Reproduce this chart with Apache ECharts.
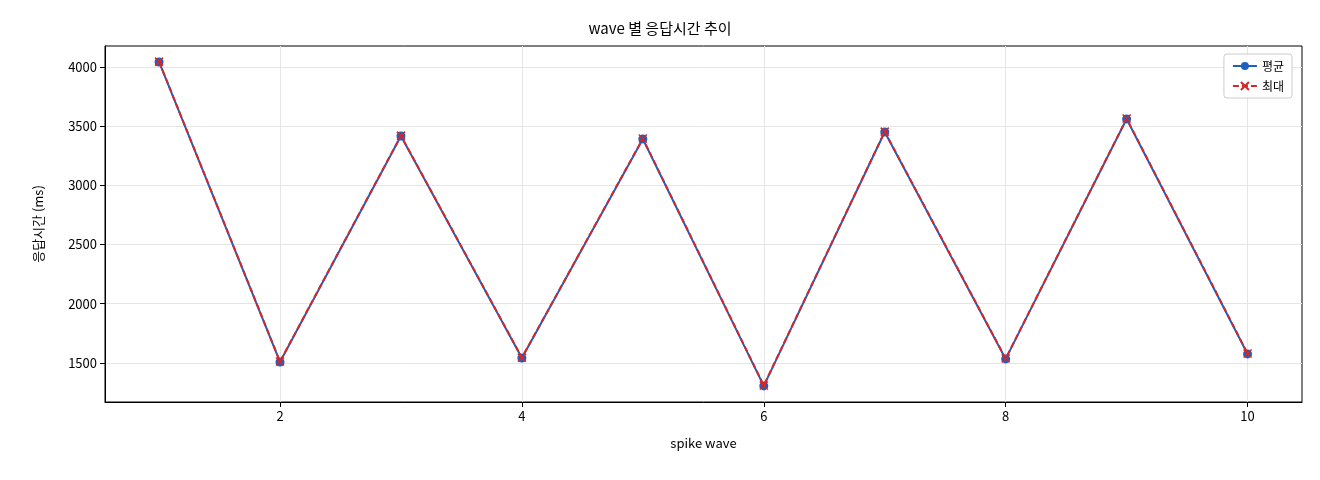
<!DOCTYPE html>
<html><head><meta charset="utf-8">
<script src="https://cdn.jsdelivr.net/npm/echarts@6/dist/echarts.min.js"></script>
<style>html,body{margin:0;padding:0;background:#fff}#c{width:1320px;height:480px}</style>
</head><body><div id="c"></div>
<script>
const waves = [1,2,3,4,5,6,7,8,9,10];
const avgMs = [4042,1508,3417,1542,3392,1306,3451,1534,3561,1576];
const maxMs = [4045,1512,3420,1545,3395,1310,3454,1537,3564,1580];
const xTicks = [2,4,6,8,10];
const yTicks = [1500,2000,2500,3000,3500,4000];
const F = '"Noto Sans CJK KR", "DejaVu Sans", sans-serif';
const chart = echarts.init(document.getElementById('c'));
chart.setOption({
  animation:false,
  title:{text:'wave 별 응답시간 추이', left:'center', top:16, textStyle:{fontFamily:F, fontSize:15, fontWeight:'normal', color:'#000'}},
  grid:{left:105, right:18, top:46, bottom:78, show:true, borderColor:'#000', borderWidth:1},
  legend:{top:54, right:28, orient:'vertical', itemGap:8, itemWidth:24, itemHeight:10, backgroundColor:'#fff', borderColor:'#ccc', borderWidth:1, borderRadius:3, padding:[6,8], textStyle:{fontFamily:F,fontSize:12,color:'#000'},
    data:['평균','최대']},
  xAxis:{type:'value', min:0.553, max:10.45, name:'spike wave', nameLocation:'middle', nameGap:35, nameTextStyle:{fontFamily:F,fontSize:13,color:'#000'},
    axisLine:{show:true, onZero:false, lineStyle:{color:'#000'}}, axisTick:{show:true, length:5, customValues:xTicks, lineStyle:{color:'#000'}}, axisLabel:{customValues:xTicks, formatter:v=>String(v), fontFamily:F, fontSize:13, color:'#000'},
    splitLine:{show:true, lineStyle:{color:'#e5e5e5'}}},
  yAxis:{type:'value', min:1170, max:4177, name:'응답시간 (ms)', nameLocation:'middle', nameGap:60, nameTextStyle:{fontFamily:F,fontSize:13,color:'#000'},
    axisLine:{show:true, onZero:false, lineStyle:{color:'#000'}}, axisTick:{show:true, length:5, customValues:yTicks, lineStyle:{color:'#000'}}, axisLabel:{customValues:yTicks, formatter:v=>String(v), fontFamily:F, fontSize:13, color:'#000'},
    splitLine:{show:true, lineStyle:{color:'#e5e5e5'}}},
  series:[
    {name:'평균', type:'line', data:waves.map((w,i)=>[w,avgMs[i]]), symbol:'circle', symbolSize:9, itemStyle:{color:'#1f5fbf'}, lineStyle:{width:2,color:'#1f5fbf'}, z:2},
    {name:'최대', type:'line', data:waves.map((w,i)=>[w,maxMs[i]]), symbol:'path://M2,2 L8,8 M8,2 L2,8', symbolSize:8, itemStyle:{color:'#d62728',borderColor:'#d62728',borderWidth:1.5}, lineStyle:{width:2,color:'#d62728',type:[6,3]}, z:3}
  ]
});
</script></body></html>
